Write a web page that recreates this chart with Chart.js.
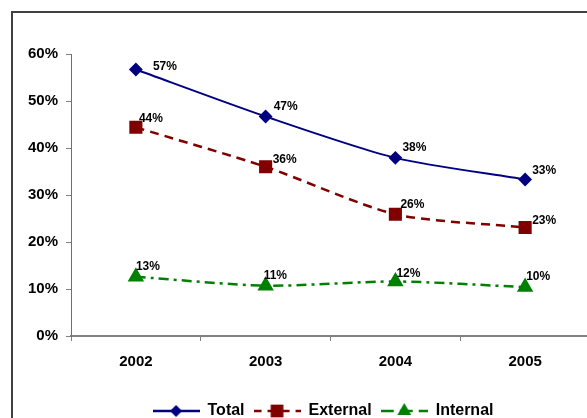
<!DOCTYPE html>
<html lang="en">
<head>
<meta charset="UTF-8" />
<title>Total, External and Internal 2002-2005</title>
<script src="https://cdn.jsdelivr.net/npm/chart.js"></script>
<style>
  html, body { margin: 0; padding: 0; background: #fff; overflow: hidden; }
  body { width: 587px; height: 418px; position: relative; }
  #frame { position: absolute; left: 11px; top: 11px; width: 700px; height: 500px; border: 2px solid #404040; }
  #chart { position: absolute; left: 0; top: 0; }
</style>
</head>
<body>
<div id="frame"></div>
<canvas id="chart" width="620" height="440"></canvas>
<script>
const years = ["2002", "2003", "2004", "2005"];
const total = [56.7, 46.7, 37.9, 33.3];
const external = [44.4, 36.0, 25.9, 23.1];
const internal = [12.6, 10.7, 11.6, 10.4];
const yTicks = [0, 10, 20, 30, 40, 50, 60];

const FONT = "'Liberation Sans', Arial, sans-serif";

// draws a marker on a plain 2d context (used for legend samples)
function marker(g, style, x, y, r, color) {
  g.fillStyle = color;
  g.beginPath();
  if (style === "rectRot") {
    g.moveTo(x, y - r); g.lineTo(x + r, y); g.lineTo(x, y + r); g.lineTo(x - r, y);
  } else if (style === "rect") {
    const s = r * Math.SQRT1_2;
    g.rect(x - s, y - s, 2 * s, 2 * s);
  } else {
    g.moveTo(x, y - r); g.lineTo(x + r * 0.866, y + r * 0.5); g.lineTo(x - r * 0.866, y + r * 0.5);
  }
  g.closePath();
  g.fill();
}

function legendSample(color, dash, style, r) {
  const c = document.createElement("canvas");
  c.width = 47; c.height = 16;
  const g = c.getContext("2d");
  g.strokeStyle = color;
  g.lineWidth = 2.5;
  g.setLineDash(dash);
  g.beginPath(); g.moveTo(0, 8); g.lineTo(47, 8); g.stroke();
  g.setLineDash([]);
  marker(g, style, 23.5, 8, r, color);
  return c;
}

const pointLabels = {
  id: "pointLabels",
  beforeDraw(chart) {
    // the legend sits a bit right of the canvas centre in the original
    const lg = chart.legend;
    if (lg && !lg._shifted) { lg.left += 28; lg.right += 28; lg._shifted = true; }
  },
  afterDatasetsDraw(chart) {
    const ctx = chart.ctx;
    ctx.save();
    ctx.font = "bold 12px " + FONT;
    ctx.fillStyle = "#000";
    ctx.textAlign = "left";
    ctx.textBaseline = "middle";
    chart.data.datasets.forEach((ds, i) => {
      chart.getDatasetMeta(i).data.forEach((pt, j) => {
        const [dx, dy] = ds.labelOffsets[j];
        ctx.fillText(Math.round(ds.data[j]) + "%", pt.x + dx, pt.y + dy);
      });
    });
    ctx.restore();
  }
};

const samples = [
  legendSample("#000080", [], "rectRot", 6),
  legendSample("#800000", [8, 6], "rect", 9),
  legendSample("#008000", [13, 6], "triangle", 8)
];

new Chart(document.getElementById("chart"), {
  type: "line",
  data: {
    labels: years,
    datasets: [
      { label: "Total", data: total, borderColor: "#000080", backgroundColor: "#000080",
        borderWidth: 2, pointStyle: "rectRot", pointRadius: 5.5, tension: 0.25,
        labelOffsets: [[17, -3], [8, -10], [7, -10], [7, -9]] },
      { label: "External", data: external, borderColor: "#800000", backgroundColor: "#800000",
        borderWidth: 2.5, borderDash: [9, 6], pointStyle: "rect", pointRadius: 7.5, tension: 0.25,
        labelOffsets: [[3, -9], [7, -7], [5, -10], [7, -7]] },
      { label: "Internal", data: internal, borderColor: "#008000", backgroundColor: "#008000",
        borderWidth: 2.5, borderDash: [10, 5, 3, 5], pointStyle: "triangle", pointRadius: 7, tension: 0.25,
        labelOffsets: [[0, -10], [-2, -10], [1, -8], [1, -10]] }
    ]
  },
  options: {
    responsive: false,
    animation: false,
    layout: { padding: { left: 0, right: 30, top: 54, bottom: 11 } },
    plugins: {
      tooltip: { enabled: false },
      legend: {
        position: "bottom",
        labels: {
          usePointStyle: true,
          pointStyleWidth: 47,
          padding: 9,
          color: "#000",
          font: { family: FONT, size: 16, weight: "bold" },
          generateLabels(chart) {
            const items = Chart.defaults.plugins.legend.labels.generateLabels(chart);
            items.forEach((it, i) => { it.pointStyle = samples[i]; });
            return items;
          }
        }
      }
    },
    scales: {
      x: {
        offset: true,
        grid: { offset: true, drawOnChartArea: false, tickLength: 5, color: "#808080" },
        border: { color: "#808080", width: 2 },
        ticks: { padding: 12, color: "#000", font: { family: FONT, size: 15, weight: "bold" } },
        afterFit(s) { s.height = 58; }
      },
      y: {
        min: yTicks[0],
        max: yTicks[yTicks.length - 1],
        afterBuildTicks(s) { s.ticks = yTicks.map(v => ({ value: v })); },
        grid: { drawOnChartArea: false, tickLength: 5, color: "#808080" },
        border: { color: "#707070", width: 1 },
        ticks: { padding: 8, color: "#000", font: { family: FONT, size: 15, weight: "bold" },
                 callback: v => v + "%" },
        afterFit(s) { s.width = 71; }
      }
    }
  },
  plugins: [pointLabels]
});
</script>
</body>
</html>
